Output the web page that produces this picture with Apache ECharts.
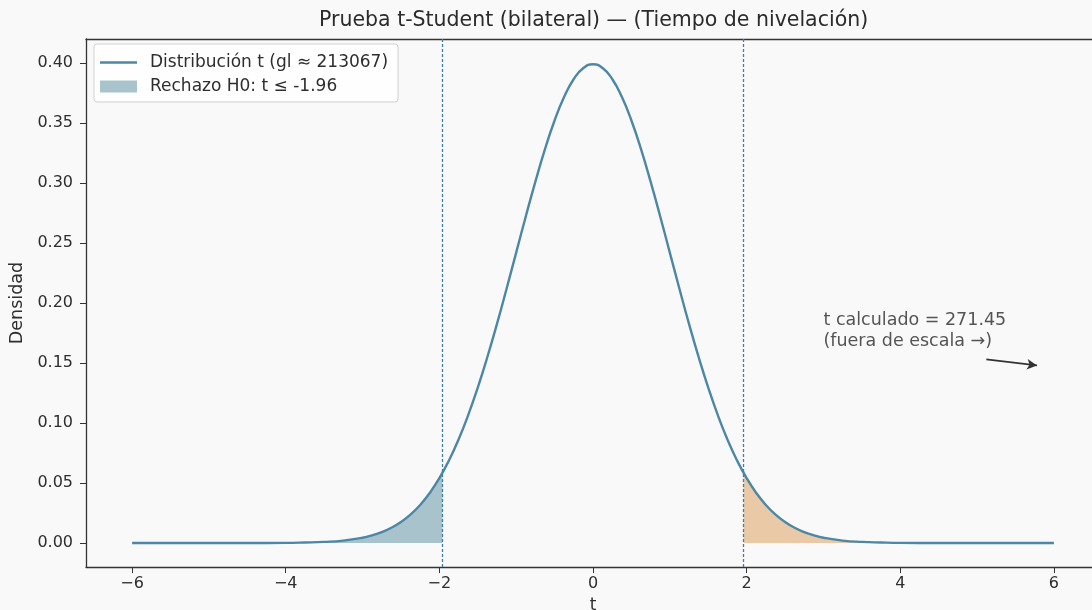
<!DOCTYPE html>
<html>
<head>
<meta charset="utf-8">
<script src="https://cdn.jsdelivr.net/npm/echarts@6/dist/echarts.min.js"></script>
<style>
  html, body { margin: 0; padding: 0; background: #f9f9f9; }
  #chart { width: 1092px; height: 610px; }
</style>
</head>
<body>
<div id="chart"></div>
<script>
  // valores
  var tValues = [-6, -5.5, -5, -4.5, -4, -3.75, -3.5, -3.25, -3, -2.875, -2.75, -2.625, -2.5, -2.375, -2.25, -2.125,
    -2, -1.875, -1.75, -1.625, -1.5, -1.375, -1.25, -1.125, -1, -0.875, -0.75, -0.625, -0.5, -0.375, -0.25, -0.125,
    0, 0.125, 0.25, 0.375, 0.5, 0.625, 0.75, 0.875, 1, 1.125, 1.25, 1.375, 1.5, 1.625, 1.75, 1.875,
    2, 2.125, 2.25, 2.375, 2.5, 2.625, 2.75, 2.875, 3, 3.25, 3.5, 3.75, 4, 4.5, 5, 5.5, 6];
  var densityValues = [0.0000, 0.0000, 0.0000, 0.0000, 0.0001, 0.0004, 0.0009, 0.0020, 0.0044, 0.0064, 0.0091, 0.0127, 0.0175, 0.0238, 0.0317, 0.0417,
    0.0540, 0.0688, 0.0863, 0.1065, 0.1295, 0.1550, 0.1826, 0.2119, 0.2420, 0.2721, 0.3011, 0.3282, 0.3521, 0.3718, 0.3867, 0.3958,
    0.3990, 0.3958, 0.3867, 0.3718, 0.3521, 0.3282, 0.3011, 0.2721, 0.2420, 0.2119, 0.1826, 0.1550, 0.1295, 0.1065, 0.0863, 0.0688,
    0.0540, 0.0417, 0.0317, 0.0238, 0.0175, 0.0127, 0.0091, 0.0064, 0.0044, 0.0020, 0.0009, 0.0004, 0.0001, 0.0000, 0.0000, 0.0000, 0.0000];
  var critT = 1.96;
  var critDensity = 0.0584;
  var xTicks = [-6, -4, -2, 0, 2, 4, 6];
  var yTicks = [0, 0.05, 0.10, 0.15, 0.20, 0.25, 0.30, 0.35, 0.40];
  var tCalc = '271.45';
  var gl = '213067';
  var textPos = [3.0, 0.177];
  var arrowFrom = [5.12, 0.153];
  var arrowTo = [5.78, 0.148];

  var lineName = 'Distribución t (gl ≈ ' + gl + ')';
  var leftName = 'Rechazo H0: t ≤ -' + critT.toFixed(2);

  var curve = [], leftTail = [], rightTail = [];
  for (var i = 0; i < tValues.length; i++) {
    curve.push([tValues[i], densityValues[i]]);
    if (tValues[i] <= -critT) leftTail.push([tValues[i], densityValues[i]]);
    if (tValues[i] >= critT) rightTail.push([tValues[i], densityValues[i]]);
  }
  leftTail.push([-critT, critDensity]);
  rightTail.unshift([critT, critDensity]);

  var txt = '#2e2e2e';
  var font = 'DejaVu Sans';
  var chart = echarts.init(document.getElementById('chart'), null, { renderer: 'canvas' });

  chart.setOption({
    backgroundColor: '#f9f9f9',
    animation: false,
    title: {
      text: 'Prueba t-Student (bilateral) — (Tiempo de nivelación)',
      left: 314,
      top: 5,
      textStyle: { fontFamily: font, fontSize: 20.5, fontWeight: 'normal', color: '#2b2b2b' }
    },
    legend: {
      orient: 'vertical',
      left: 94,
      top: 44,
      padding: [10, 10, 7, 6],
      itemWidth: 37,
      itemHeight: 12,
      itemGap: 7,
      backgroundColor: 'rgba(255,255,255,0.85)',
      borderColor: '#d0d0d0',
      borderWidth: 1,
      borderRadius: 3,
      textStyle: { fontFamily: font, fontSize: 17, lineHeight: 17, color: txt, padding: [0, 0, 0, 8] },
      data: [
        { name: lineName, icon: 'path://M0,0 L37,0 L37,2.4 L0,2.4 Z' },
        { name: leftName, icon: 'rect' }
      ]
    },
    grid: { left: 86, right: -8, top: 39, bottom: 43, outerBoundsMode: 'none' },
    xAxis: [{
      type: 'value',
      min: -6.6,
      max: 6.6,
      name: 't',
      nameLocation: 'middle',
      nameGap: 22,
      nameTextStyle: { fontFamily: font, fontSize: 17, color: txt },
      splitLine: { show: false },
      axisLine: { onZero: false, lineStyle: { color: '#333', width: 1.3 } },
      axisTick: { customValues: xTicks, length: 6, lineStyle: { color: '#333' } },
      axisLabel: {
        customValues: xTicks,
        fontFamily: font, fontSize: 16, color: txt, margin: 9,
        formatter: function (v) { return v < 0 ? '−' + Math.abs(v) : String(v); }
      }
    }, {
      type: 'value',
      position: 'top',
      min: -6.6,
      max: 6.6,
      splitLine: { show: false },
      axisLine: { onZero: false, lineStyle: { color: '#333', width: 1.3 } },
      axisTick: { show: false },
      axisLabel: { show: false }
    }],
    yAxis: {
      type: 'value',
      min: -0.02,
      max: 0.42,
      name: 'Densidad',
      nameLocation: 'middle',
      nameGap: 55,
      nameTextStyle: { fontFamily: font, fontSize: 17.5, color: txt },
      splitLine: { show: false },
      axisLine: { show: true, onZero: false, lineStyle: { color: '#333', width: 1.3 } },
      axisTick: { show: true, customValues: yTicks, length: 6, lineStyle: { color: '#333' } },
      axisLabel: {
        customValues: yTicks,
        fontFamily: font, fontSize: 16, color: txt, margin: 13,
        formatter: function (v) { return v.toFixed(2); }
      }
    },
    series: [
      {
        name: leftName,
        type: 'line',
        data: leftTail,
        smooth: 0.5,
        symbol: 'none',
        lineStyle: { width: 0, opacity: 0 },
        itemStyle: { color: '#a9c3cc' },
        areaStyle: { color: '#a9c3cc', opacity: 1 },
        z: 1
      },
      {
        name: 'Rechazo derecha',
        type: 'line',
        data: rightTail,
        smooth: 0.5,
        symbol: 'none',
        lineStyle: { width: 0, opacity: 0 },
        areaStyle: { color: '#e9c9a6', opacity: 1 },
        z: 1
      },
      {
        name: lineName,
        type: 'line',
        data: curve,
        smooth: 0.5,
        symbol: 'none',
        lineStyle: { color: '#4d87a6', width: 2.4 },
        itemStyle: { color: '#4d87a6' },
        z: 3,
        markLine: {
          silent: true,
          symbol: 'none',
          label: { show: false },
          lineStyle: { color: '#3f7fa5', type: [3, 2], width: 1.3 },
          data: [{ xAxis: -critT }, { xAxis: critT }]
        }
      },
      {
        name: 'anotacion',
        type: 'scatter',
        data: [textPos],
        symbolSize: 0,
        label: {
          show: true,
          position: 'right',
          distance: 0,
          fontFamily: font,
          fontSize: 17.5,
          lineHeight: 21,
          color: '#2b2b2b',
          formatter: 't calculado = ' + tCalc + '\n(fuera de escala →)'
        },
        markLine: {
          silent: true,
          symbol: ['none', 'arrow'],
          symbolSize: [8, 10],
          label: { show: false },
          lineStyle: { color: '#333', type: 'solid', width: 1.6 },
          data: [[{ coord: arrowFrom }, { coord: arrowTo }]]
        }
      }
    ]
  });
</script>
</body>
</html>
